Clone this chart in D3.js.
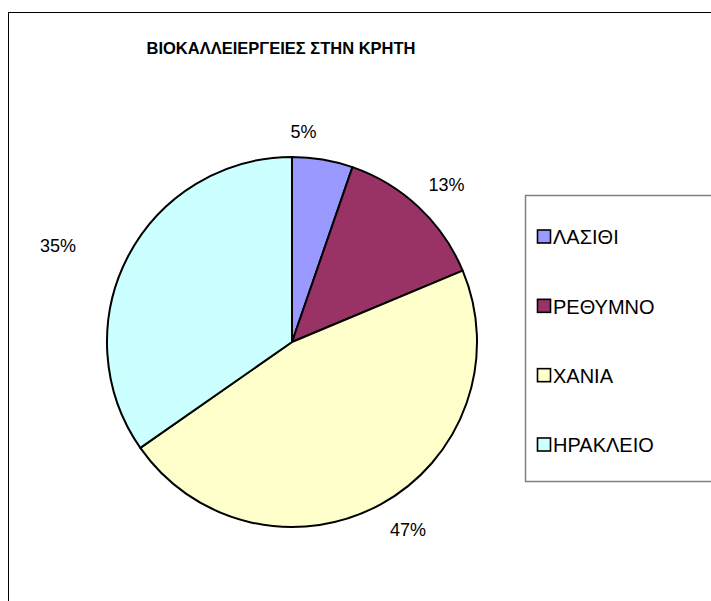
<!DOCTYPE html>
<html>
<head>
<meta charset="utf-8">
<script src="https://cdn.jsdelivr.net/npm/d3@7"></script>
<style>
  body { margin: 0; background: #fff; }
  svg { display: block; font-family: "Liberation Sans", Arial, sans-serif; }
</style>
</head>
<body>
<div id="chart"></div>
<script>
// data
const regions = ['ΛΑΣΙΘΙ', 'ΡΕΘΥΜΝΟ', 'ΧΑΝΙΑ', 'ΗΡΑΚΛΕΙΟ'];
const shares = [5.3, 13.4, 46.6, 34.7];
const colors = ['#9999ff', '#993366', '#ffffcc', '#ccffff'];
const title = 'ΒΙΟΚΑΛΛΕΙΕΡΓΕΙΕΣ ΣΤΗΝ ΚΡΗΤΗ';

// small hand nudges so the % labels sit where Excel put them
const labelNudge = [[-25, 7], [4, 3], [10, -5], [-39, 5]];

const width = 711, height = 601;
const cx = 292, cy = 342, radius = 185;

const svg = d3.select('#chart').append('svg')
    .attr('width', width)
    .attr('height', height);

// chart frame (right/bottom edges fall outside the picture)
svg.append('rect')
    .attr('x', 8.5).attr('y', 12.5)
    .attr('width', 720).attr('height', 620)
    .attr('fill', '#fff')
    .attr('stroke', '#000')
    .attr('stroke-width', 1);

svg.append('text')
    .attr('x', 281).attr('y', 54)
    .attr('text-anchor', 'middle')
    .style('font-weight', 'bold')
    .style('font-size', '16.5px')
    .text(title);

const rows = regions.map((name, i) => ({ name, value: shares[i], color: colors[i] }));
const total = d3.sum(shares);

const pie = d3.pie().sort(null).value(d => d.value);
const arc = d3.arc().innerRadius(0).outerRadius(radius);
const labelArc = d3.arc().innerRadius(radius + 35).outerRadius(radius + 35);

const g = svg.append('g').attr('transform', `translate(${cx},${cy})`);

g.selectAll('path')
    .data(pie(rows))
    .enter().append('path')
    .attr('d', arc)
    .attr('fill', d => d.data.color)
    .attr('stroke', '#000')
    .attr('stroke-width', 2)
    .attr('stroke-linejoin', 'round');

g.selectAll('text')
    .data(pie(rows))
    .enter().append('text')
    .attr('transform', (d, i) => {
        const [x, y] = labelArc.centroid(d);
        return `translate(${x + labelNudge[i][0]},${y + labelNudge[i][1]})`;
    })
    .attr('text-anchor', 'middle')
    .attr('dy', '0.35em')
    .style('font-size', '18px')
    .text(d => Math.round(d.data.value / total * 100) + '%');

// legend
const legend = svg.append('g').attr('transform', 'translate(525,195)');
legend.append('rect')
    .attr('x', 0.5).attr('y', 0.5)
    .attr('width', 220).attr('height', 286)
    .attr('fill', '#fff')
    .attr('stroke', '#808080')
    .attr('stroke-width', 1.5);

const rowY = d3.scalePoint().domain(regions).range([42, 250]);

const item = legend.selectAll('.item')
    .data(rows)
    .enter().append('g')
    .attr('class', 'item')
    .attr('transform', d => `translate(12,${rowY(d.name)})`);

item.append('rect')
    .attr('x', 0.5).attr('y', -7)
    .attr('width', 13).attr('height', 13)
    .attr('fill', d => d.color)
    .attr('stroke', '#000')
    .attr('stroke-width', 1.6);

item.append('text')
    .attr('x', 16)
    .attr('dy', '0.36em')
    .style('font-size', '20px')
    .text(d => d.name);
</script>
</body>
</html>
